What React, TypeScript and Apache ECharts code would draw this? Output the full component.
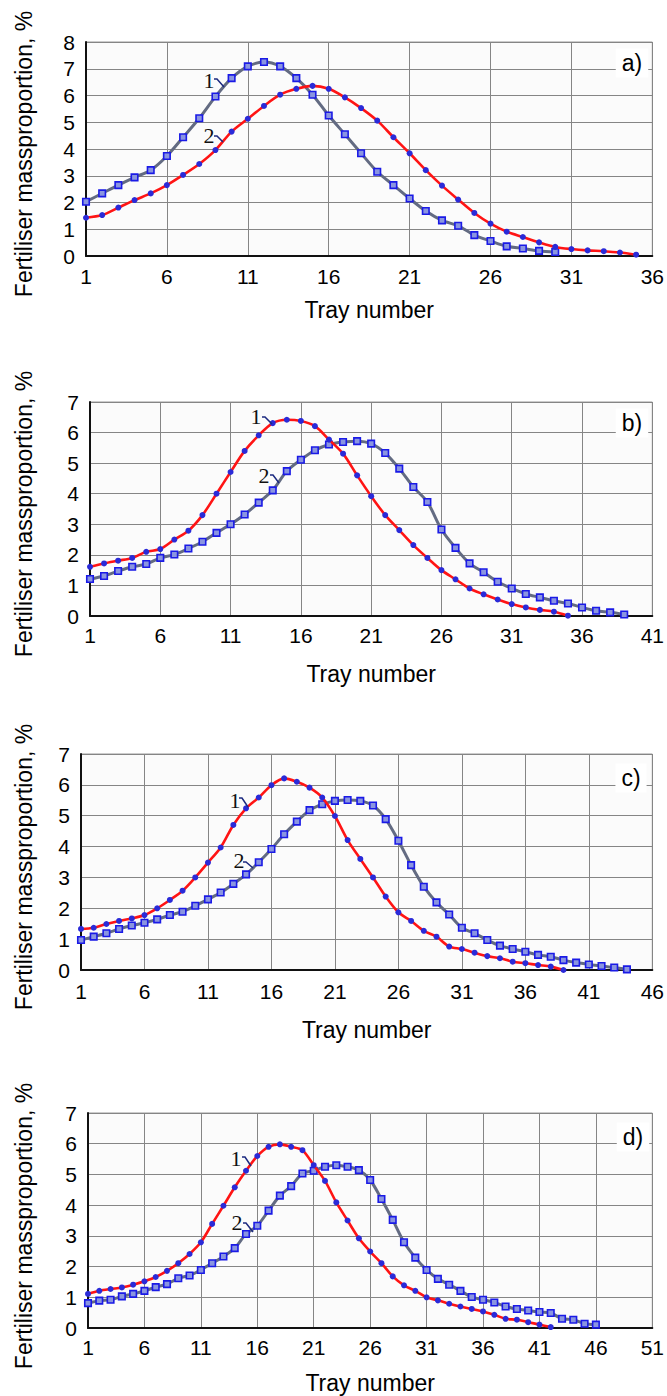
import React, { useEffect, useRef } from "react";
import * as echarts from "echarts";

// ---- Data (tray index = position + 1) ----
const A_CURVE1 = [2.03, 2.34, 2.65, 2.94, 3.21, 3.74, 4.44, 5.15, 5.96, 6.65, 7.09, 7.25, 7.09, 6.65, 6.03, 5.25, 4.55, 3.84, 3.15, 2.65, 2.15, 1.68, 1.33, 1.13, 0.78, 0.56, 0.36, 0.28, 0.19, 0.15];
const A_CURVE2 = [1.43, 1.53, 1.81, 2.09, 2.34, 2.65, 3.03, 3.44, 3.96, 4.65, 5.13, 5.61, 6.03, 6.25, 6.36, 6.25, 5.93, 5.53, 5.06, 4.44, 3.84, 3.21, 2.63, 2.11, 1.61, 1.21, 0.91, 0.71, 0.51, 0.34, 0.26, 0.21, 0.18, 0.13, 0.05];

const B_CURVE1 = [1.61, 1.72, 1.81, 1.9, 2.1, 2.19, 2.5, 2.79, 3.3, 4.0, 4.71, 5.4, 5.91, 6.31, 6.42, 6.38, 6.21, 5.77, 5.31, 4.6, 3.92, 3.3, 2.81, 2.32, 1.9, 1.5, 1.2, 0.9, 0.71, 0.54, 0.39, 0.28, 0.2, 0.14, 0.01];
const B_CURVE2 = [1.21, 1.31, 1.47, 1.61, 1.7, 1.9, 2.01, 2.21, 2.43, 2.72, 3.0, 3.32, 3.71, 4.11, 4.74, 5.11, 5.42, 5.61, 5.69, 5.72, 5.64, 5.33, 4.82, 4.22, 3.73, 2.83, 2.23, 1.72, 1.43, 1.12, 0.9, 0.72, 0.61, 0.5, 0.41, 0.28, 0.17, 0.12, 0.05];

const C_CURVE1 = [1.33, 1.37, 1.49, 1.59, 1.67, 1.78, 2.0, 2.27, 2.57, 3.0, 3.48, 3.97, 4.7, 5.24, 5.59, 5.99, 6.21, 6.1, 5.91, 5.59, 4.99, 4.21, 3.6, 3.0, 2.38, 1.87, 1.59, 1.27, 1.08, 0.76, 0.68, 0.56, 0.45, 0.38, 0.27, 0.22, 0.16, 0.11, 0.0];
const C_CURVE2 = [0.97, 1.08, 1.19, 1.33, 1.44, 1.53, 1.64, 1.78, 1.89, 2.08, 2.29, 2.51, 2.79, 3.1, 3.49, 3.92, 4.4, 4.81, 5.18, 5.37, 5.48, 5.51, 5.48, 5.33, 4.89, 4.19, 3.4, 2.7, 2.19, 1.8, 1.37, 1.19, 0.97, 0.79, 0.68, 0.59, 0.49, 0.43, 0.32, 0.24, 0.18, 0.13, 0.08, 0.02];

const D_CURVE1 = [1.11, 1.21, 1.27, 1.32, 1.41, 1.52, 1.66, 1.86, 2.11, 2.41, 2.79, 3.39, 3.98, 4.58, 5.12, 5.6, 5.9, 5.98, 5.9, 5.79, 5.3, 4.79, 4.09, 3.5, 2.92, 2.49, 2.11, 1.68, 1.39, 1.21, 1.0, 0.9, 0.79, 0.7, 0.62, 0.54, 0.43, 0.3, 0.27, 0.19, 0.11, 0.03];
const D_CURVE2 = [0.81, 0.89, 0.92, 1.03, 1.11, 1.21, 1.33, 1.43, 1.62, 1.71, 1.89, 2.11, 2.33, 2.6, 3.06, 3.33, 3.82, 4.31, 4.62, 5.03, 5.12, 5.25, 5.3, 5.25, 5.14, 4.82, 4.2, 3.52, 2.79, 2.29, 1.89, 1.6, 1.41, 1.21, 1.01, 0.92, 0.83, 0.7, 0.62, 0.57, 0.52, 0.49, 0.3, 0.27, 0.14, 0.11];

const PANEL_LABELS = ["a)", "b)", "c)", "d)"];
const X_MAX = [36, 41, 46, 51];
const Y_MAX = [8, 7, 7, 7];
const X_NAME = "Tray number";
const Y_NAME = "Fertiliser massproportion, %";
const CURVE_NAMES = ["1", "2"];

// which curve is drawn red (curve 1 is gray in panel a, red elsewhere)
const CURVES = [
  { c1: A_CURVE1, c2: A_CURVE2, redIs1: false },
  { c1: B_CURVE1, c2: B_CURVE2, redIs1: true },
  { c1: C_CURVE1, c2: C_CURVE2, redIs1: true },
  { c1: D_CURVE1, c2: D_CURVE2, redIs1: true },
];

// ---- Layout ----
const GRIDS = [
  { left: 86, top: 42, width: 571, height: 214, yNameY: 154, labelGap: 10, nameGap: 42, label1: [209, 80, 214, 79, 224, 87], label2: [209, 135, 214, 136, 223, 142] },
  { left: 90, top: 402, width: 567, height: 214, yNameY: 514, labelGap: 9, nameGap: 46, label1: [256, 416, 262, 417, 272, 424], label2: [264, 475, 270, 475, 279, 483] },
  { left: 81, top: 754, width: 575, height: 216, yNameY: 867, labelGap: 11, nameGap: 48, label1: [235, 800, 239, 798, 248, 807], label2: [239, 860, 243, 862, 253, 868] },
  { left: 88, top: 1113, width: 570, height: 215, yNameY: 1226, labelGap: 9, nameGap: 43, label1: [236, 1158, 242, 1157, 251, 1166], label2: [237, 1222, 243, 1223, 253, 1232] },
];

const SANS = "'Liberation Sans', Arial, sans-serif";
const SERIF = "'Liberation Serif', 'Times New Roman', serif";

const toPairs = (arr: number[]) => arr.map((v, i) => [i + 1, v]);

function buildOption() {
  const grid: any[] = [];
  const xAxis: any[] = [];
  const yAxis: any[] = [];
  const series: any[] = [];
  const graphic: any[] = [];

  GRIDS.forEach((g, i) => {
    grid.push({
      left: g.left,
      top: g.top,
      width: g.width,
      height: g.height,
      show: true,
      backgroundColor: "#fbfbfb",
      borderColor: "#999",
      borderWidth: 1,
    });
    xAxis.push({
      type: "value",
      gridIndex: i,
      min: 1,
      max: X_MAX[i],
      interval: 5,
      name: X_NAME,
      nameLocation: "middle",
      nameGap: g.nameGap,
      nameTextStyle: { fontFamily: SANS, fontSize: 23, color: "#000" },
      axisLine: { show: true, onZero: false, lineStyle: { color: "#111", width: 2 } },
      axisTick: { show: false },
      axisLabel: { fontFamily: SANS, fontSize: 21, color: "#000", margin: g.labelGap, showMinLabel: true, showMaxLabel: true },
      splitLine: { show: true, lineStyle: { color: "#858585", width: 1 } },
    });
    yAxis.push({
      type: "value",
      gridIndex: i,
      min: 0,
      max: Y_MAX[i],
      interval: 1,
      axisLine: { show: true, onZero: false, lineStyle: { color: "#111", width: 2 } },
      axisTick: { show: false },
      axisLabel: { fontFamily: SANS, fontSize: 21, color: "#000", margin: 11 },
      splitLine: { show: true, lineStyle: { color: "#858585", width: 1 } },
    });

    const c = CURVES[i];
    const red = c.redIs1 ? c.c1 : c.c2;
    const gray = c.redIs1 ? c.c2 : c.c1;
    const redName = c.redIs1 ? CURVE_NAMES[0] : CURVE_NAMES[1];
    const grayName = c.redIs1 ? CURVE_NAMES[1] : CURVE_NAMES[0];

    series.push({
      type: "line",
      name: `${PANEL_LABELS[i]} ${grayName}`,
      xAxisIndex: i,
      yAxisIndex: i,
      data: toPairs(gray),
      smooth: 0.3,
      lineStyle: { color: "#636b82", width: 3 },
      symbol: "rect",
      symbolSize: 6.5,
      itemStyle: { color: "#8a95e0", borderColor: "#1a1ae6", borderWidth: 1.6 },
      z: 3,
    });
    series.push({
      type: "line",
      name: `${PANEL_LABELS[i]} ${redName}`,
      xAxisIndex: i,
      yAxisIndex: i,
      data: toPairs(red),
      smooth: 0.3,
      lineStyle: { color: "#ff1414", width: 2.6 },
      symbol: "circle",
      symbolSize: 6,
      itemStyle: { color: "#2a2ad8", borderColor: "#2a2ad8", borderWidth: 0 },
      z: 4,
    });

    // y axis name (rotated)
    graphic.push({
      type: "text",
      x: 24,
      y: g.yNameY,
      rotation: Math.PI / 2,
      z: 100,
      style: { text: Y_NAME, fontFamily: SANS, fontSize: 23, fill: "#000", textAlign: "center", textVerticalAlign: "middle" },
    });
    // panel label
    graphic.push({
      type: "text",
      x: g.left + g.width - 25,
      y: g.top + (i < 2 ? 21 : 24),
      z: 100,
      style: {
        text: PANEL_LABELS[i],
        fontFamily: SANS,
        fontSize: 23,
        fill: "#000",
        textAlign: "center",
        textVerticalAlign: "middle",
        backgroundColor: "#fff",
        padding: [3, 6],
      },
    });
    // curve labels with leader lines
    [g.label1, g.label2].forEach((L, k) => {
      graphic.push({
        type: "text",
        x: L[0],
        y: L[1],
        z: 100,
        style: { text: CURVE_NAMES[k], fontFamily: SERIF, fontSize: 22, fill: "#111", textAlign: "center", textVerticalAlign: "middle" },
      });
      graphic.push({
        type: "polyline",
        z: 100,
        shape: { points: [[L[2], L[3]], [L[2] + 3, L[3]], [L[4], L[5]]] },
        style: { stroke: "#1c2a80", lineWidth: 1.5, fill: null },
      });
    });
  });

  return {
    animation: false,
    backgroundColor: "#fff",
    grid,
    xAxis,
    yAxis,
    series,
    graphic,
  };
}

export default function App() {
  const ref = useRef<HTMLDivElement>(null);
  useEffect(() => {
    document.body.style.margin = "0";
    if (!ref.current) return;
    const chart = echarts.init(ref.current, undefined, { renderer: "svg" });
    chart.setOption(buildOption() as any);
    return () => chart.dispose();
  }, []);
  return <div ref={ref} style={{ width: 667, height: 1396 }} />;
}
